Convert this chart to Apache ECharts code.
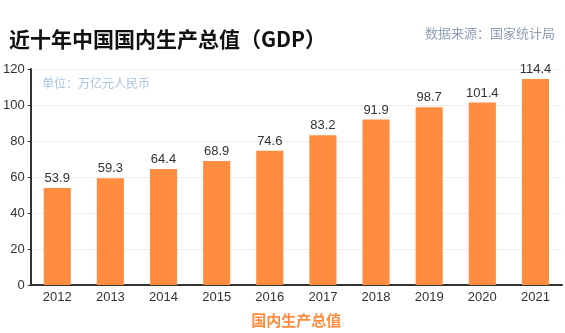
<!DOCTYPE html>
<html><head><meta charset="utf-8">
<script src="https://cdn.jsdelivr.net/npm/echarts@6/dist/echarts.min.js"></script>
<style>html,body{margin:0;padding:0;background:#fff}#c{width:565px;height:333px}</style>
</head><body><div id="c"></div>
<script>
const years = ['2012','2013','2014','2015','2016','2017','2018','2019','2020','2021'];
const gdp = [53.9, 59.3, 64.4, 68.9, 74.6, 83.2, 91.9, 98.7, 101.4, 114.4];
const yTicks = {min: 0, max: 120, interval: 20};

const chart = echarts.init(document.getElementById('c'));
chart.setOption({
  animation: false,
  backgroundColor: '#fff',
  title: [
    {text: '近十年中国国内生产总值（GDP）', left: 4, top: 24,
     textStyle: {fontFamily: 'Noto Sans CJK SC', fontWeight: 'bold', fontSize: 21, color: '#111'}},
    {text: '数据来源：国家统计局', right: 5, top: 22,
     textStyle: {fontFamily: 'Noto Sans CJK SC', fontWeight: 'normal', fontSize: 13, color: '#8f9db5'}},
    {text: '单位：万亿元人民币', left: 37, top: 72,
     textStyle: {fontFamily: 'Noto Sans CJK SC', fontWeight: 'normal', fontSize: 12, color: '#a9c3e0'}}
  ],
  grid: {left: 29, right: 3, top: 69, bottom: 47},
  xAxis: {
    type: 'category', data: years,
    name: '国内生产总值', nameLocation: 'middle', nameGap: 28,
    nameTextStyle: {fontFamily: 'Noto Sans CJK SC', fontWeight: 'bold', fontSize: 15, color: '#ff8c3f'},
    axisLine: {lineStyle: {color: '#333', width: 2}},
    axisTick: {show: false},
    axisLabel: {fontFamily: 'Liberation Sans', fontSize: 13, color: '#333', margin: 6}
  },
  yAxis: {
    type: 'value', min: yTicks.min, max: yTicks.max, interval: yTicks.interval,
    axisLine: {show: true, lineStyle: {color: '#333', width: 2}},
    axisTick: {show: true, length: 3, lineStyle: {color: '#333'}},
    axisLabel: {fontFamily: 'Liberation Sans', fontSize: 13, color: '#333', margin: 6},
    splitLine: {lineStyle: {color: '#eeeeee'}}
  },
  series: [{
    type: 'bar', data: gdp, barWidth: '51%',
    itemStyle: {color: '#ff8c3f'},
    label: {show: true, position: 'top', distance: 3, fontFamily: 'Liberation Sans', fontSize: 13, color: '#333'}
  }]
});
</script></body></html>
